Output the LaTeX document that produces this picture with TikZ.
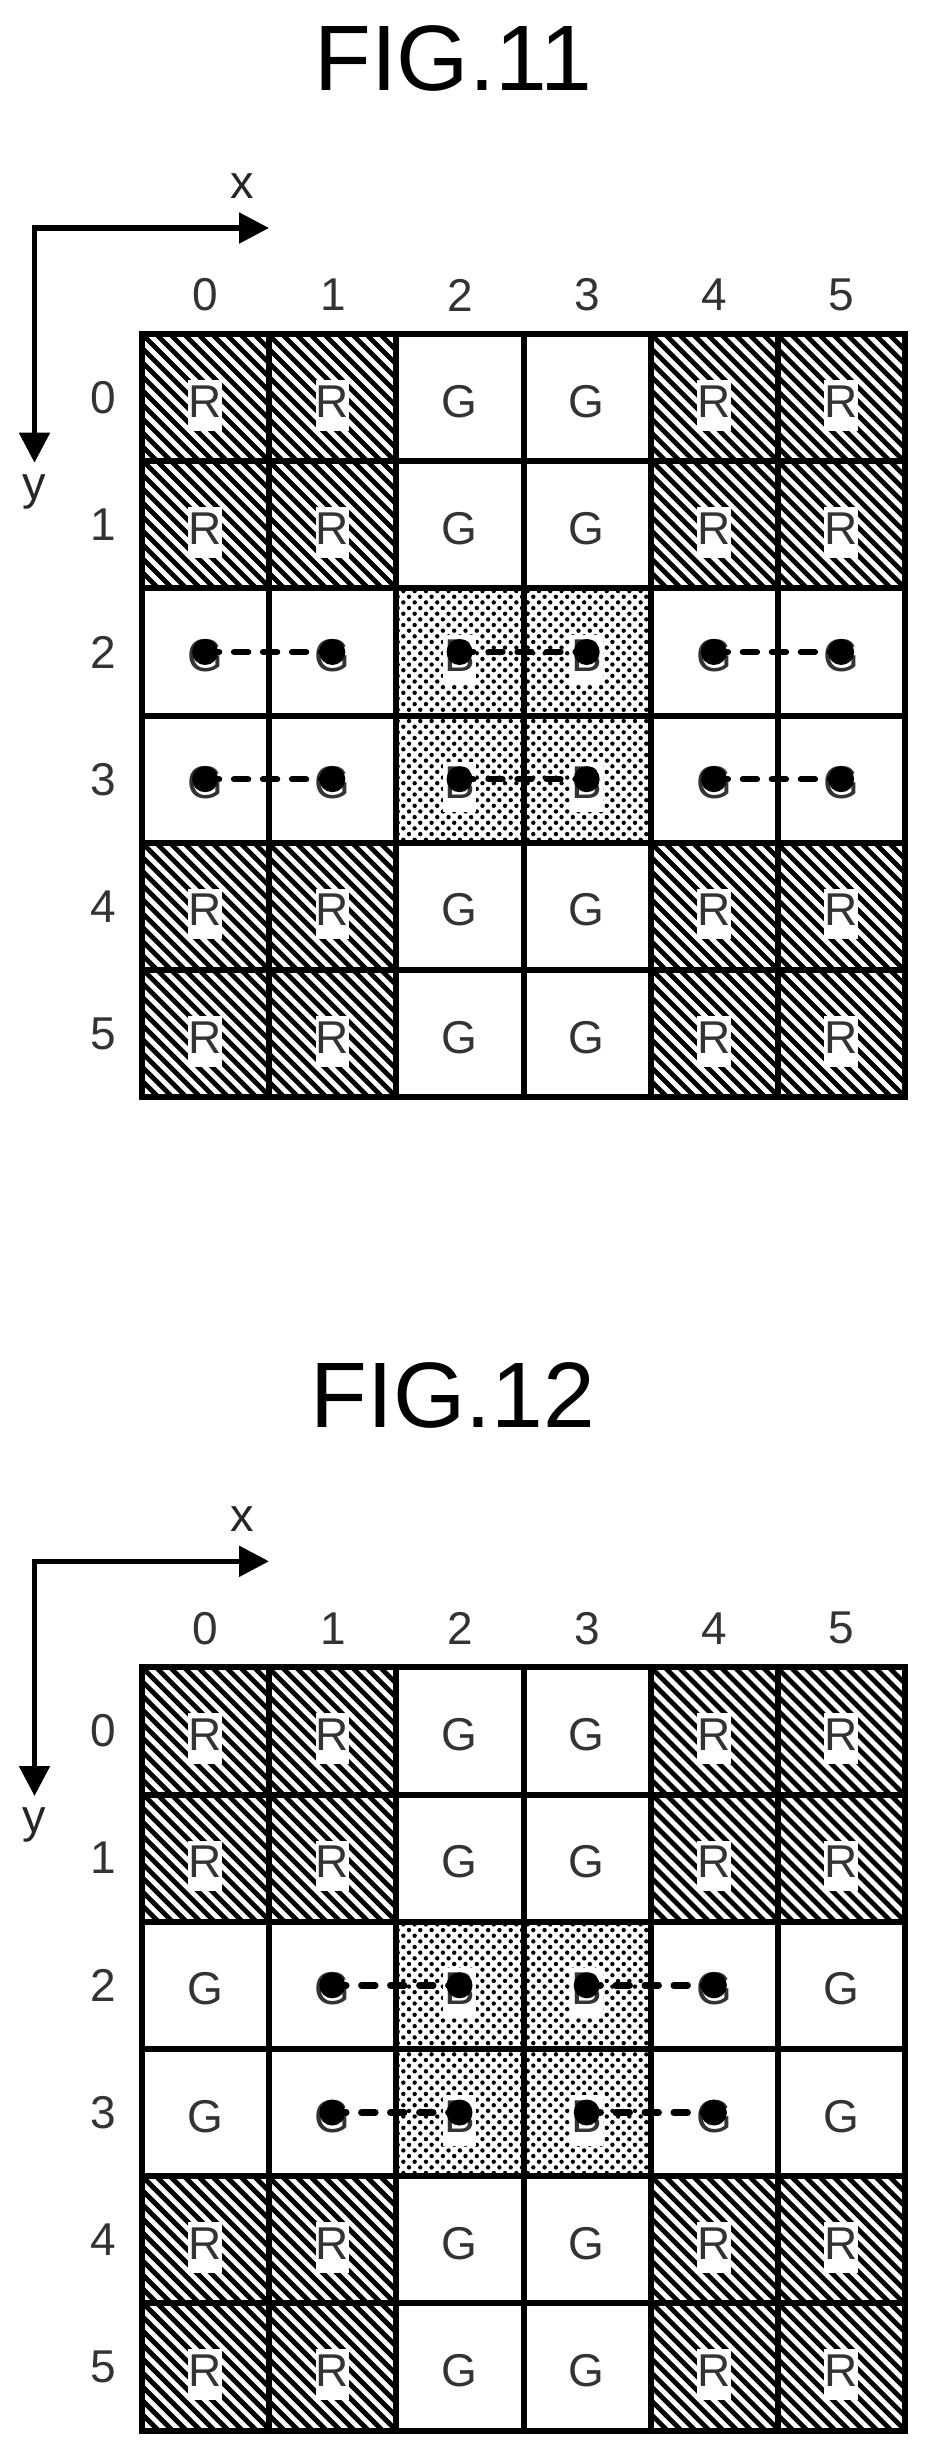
\documentclass[tikz,border=0pt]{standalone}
\usepackage{fontspec}
\setmainfont{Liberation Sans}
\usetikzlibrary{arrows.meta}
\def\cw{127.2}
\tikzset{
  x=1pt,y=-1pt,
  cellbox/.style={draw=black,line width=6pt,minimum size=\cw pt,inner sep=0pt,outer sep=0pt},
  letter/.style={anchor=base,inner sep=0pt,text=black!80,font=\fontsize{46}{46}\selectfont},
  clearbox/.style={letter,fill=white,minimum width=33pt,text height=37pt,text depth=13.5pt},
  num/.style={inner sep=0pt,text=black!80,font=\fontsize{46}{46}\selectfont},
  axislabel/.style={anchor=base,inner sep=0pt,text=black!85,font=\fontsize{47}{47}\selectfont},
  title/.style={anchor=base,inner sep=0pt,text=black,font=\fontsize{93}{93}\selectfont},
  axisline/.style={line width=5.3pt,miter limit=10,{Triangle[length=30pt,width=30pt]}-{Triangle[length=30pt,width=30pt]}},
  blackdot/.style={circle,fill=black,minimum size=26pt,inner sep=0pt},
  dashlink/.style={line width=6.4pt,line cap=round,dash pattern=on 14pt off 15pt},
  hatchline/.style={line width=4.8pt},
}
\newcommand\panel[3]{%
\begin{scope}[name prefix=#1-,shift={(142,#2)}]
  % hatched blocks
  \foreach \bx/\by in {0/0,4/0,0/4,4/4}{
    \begin{scope}
      \clip ({\bx*\cw},{\by*\cw}) rectangle ++({2*\cw},{2*\cw});
      \foreach \k in {-20,...,20}{
        \draw[hatchline] ({\bx*\cw+\k*14},{\by*\cw}) -- ++({2*\cw},{2*\cw});
      }
    \end{scope}
  }
  % dotted block
  \begin{scope}
    \clip ({2*\cw},{2*\cw}) rectangle ++({2*\cw},{2*\cw});
    \fill[black] foreach \i in {0,...,45}{
      foreach \j in {0,...,23}{
        ({2*\cw+1.3+\j*11.3+mod(\i+1,2)*5.65},{2*\cw+2.7+\i*5.65}) circle[radius=2.2pt]
      }
    };
  \end{scope}
  % cells and letters
  \foreach \c in {0,...,5}{
    \foreach \r in {0,...,5}{
      \node[cellbox] (c-\c-\r) at ({\cw*\c+\cw/2},{\cw*\r+\cw/2}) {};
      \pgfmathtruncatemacro\incol{(\c==2||\c==3)?1:0}
      \pgfmathtruncatemacro\inrow{(\r==2||\r==3)?1:0}
      \pgfmathtruncatemacro\kind{\incol+\inrow}
      \ifnum\kind=1
        \node[letter] (l-\c-\r) at ({\cw*\c+\cw/2-0.5},{\cw*\r+\cw/2+19.5}) {G};
      \else
        \ifnum\kind=0
          \node[clearbox] (l-\c-\r) at ({\cw*\c+\cw/2-0.5},{\cw*\r+\cw/2+19.5}) {R};
        \else
          \node[clearbox] (l-\c-\r) at ({\cw*\c+\cw/2-0.5},{\cw*\r+\cw/2+19.5}) {B};
        \fi
      \fi
    }
  }
  % index numbers
  \foreach \c in {0,...,5}{
    \node[num] (ct-\c) at ({\cw*\c+\cw/2},-39) {\c};
    \node[num] (rt-\c) at (-39,{\cw*\c+\cw/2}) {\c};
  }
  % axes
  \coordinate (corner) at (-107.5,-106);
  \coordinate (xend) at (127,-106);
  \coordinate (yend) at (-107.5,128.7);
  \draw[axisline] (xend) -- (corner) -- (yend);
  \node[axislabel] (xl) at (100,-136) {x};
  \node[axislabel] (yl) at (-107.5,165) {y};
  % dots and links
  \foreach \c/\d in {#3}{
    \foreach \r in {2,3}{
      \node[blackdot] (d-\c-\r) at ({\cw*\c+\cw/2-0.5},{\cw*\r+\cw/2}) {};
      \node[blackdot] (d-\d-\r) at ({\cw*\d+\cw/2-0.5},{\cw*\r+\cw/2}) {};
      \draw[dashlink] (d-\c-\r.center) -- (d-\d-\r.center);
    }
  }
\end{scope}}
\begin{document}
\begin{tikzpicture}
\useasboundingbox (0,0) rectangle (926,2453);
\fill[white] (0,0) rectangle (926,2453);
\node[title] (t1) at (453,90) {FIG.11};
\panel{a}{334}{0/1,2/3,4/5}
\node[title] (t2) at (453,1427.7) {FIG.12};
\panel{b}{1667.3}{1/2,3/4}
\end{tikzpicture}
\end{document}
